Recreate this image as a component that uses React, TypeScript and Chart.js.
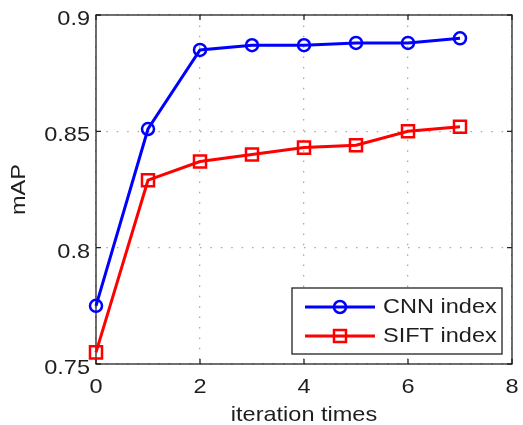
import { useEffect, useRef } from "react";
import { Chart, registerables } from "chart.js";

Chart.register(...registerables);

const iterations = [0, 1, 2, 3, 4, 5, 6, 7];
const cnnIndex = [0.775, 0.851, 0.885, 0.887, 0.887, 0.888, 0.888, 0.89];
const siftIndex = [0.755, 0.829, 0.837, 0.84, 0.843, 0.844, 0.85, 0.852];
const xTicks = [0, 2, 4, 6, 8];
const yTicks = [0.75, 0.8, 0.85, 0.9];
const xTickLabels = ["0", "2", "4", "6", "8"];
const yTickLabels = ["0.75", "0.8", "0.85", "0.9"];
const seriesNames = ["CNN index", "SIFT index"];
const xTitle = "iteration times";
const yTitle = "mAP";

const FONT = '"Liberation Sans", Arial, Helvetica, sans-serif';
const FONT_SIZE = 21;
const STRETCH = 1.12;
const TEXT = "#1e1e1e";
const BLUE = "#0000ff";
const RED = "#ff0000";
const GRID = "#a8a8a8";

function drawText(
  ctx: CanvasRenderingContext2D,
  text: string,
  x: number,
  y: number,
  align: CanvasTextAlign,
  rotate = 0
) {
  ctx.save();
  ctx.translate(x, y);
  if (rotate) ctx.rotate(rotate);
  ctx.scale(STRETCH, 1);
  ctx.font = `${FONT_SIZE}px ${FONT}`;
  ctx.fillStyle = TEXT;
  ctx.textAlign = align;
  ctx.textBaseline = "alphabetic";
  ctx.fillText(text, 0, 0);
  ctx.restore();
}

function drawMarker(ctx: CanvasRenderingContext2D, kind: string, x: number, y: number, color: string) {
  ctx.save();
  ctx.strokeStyle = color;
  ctx.lineWidth = 2.5;
  ctx.beginPath();
  if (kind === "circle") {
    ctx.arc(x, y, 6, 0, Math.PI * 2);
  } else {
    ctx.rect(x - 6, y - 6, 12, 12);
  }
  ctx.stroke();
  ctx.restore();
}

const framePlugin = {
  id: "frame",
  beforeDatasetsDraw(chart: any) {
    const { ctx, chartArea: a, scales } = chart;
    ctx.save();
    ctx.strokeStyle = "#222";
    ctx.lineWidth = 1.3;
    ctx.strokeRect(a.left, a.top, a.right - a.left, a.bottom - a.top);
    ctx.beginPath();
    const tl = 5;
    xTicks.forEach((v) => {
      const px = scales.x.getPixelForValue(v);
      ctx.moveTo(px, a.bottom);
      ctx.lineTo(px, a.bottom - tl);
      ctx.moveTo(px, a.top);
      ctx.lineTo(px, a.top + tl);
    });
    yTicks.forEach((v) => {
      const py = scales.y.getPixelForValue(v);
      ctx.moveTo(a.left, py);
      ctx.lineTo(a.left + tl, py);
      ctx.moveTo(a.right, py);
      ctx.lineTo(a.right - tl, py);
    });
    ctx.stroke();
    ctx.restore();

    xTicks.forEach((v, i) => {
      const px = scales.x.getPixelForValue(v);
      drawText(ctx, xTickLabels[i], px, a.bottom + 29, "center");
    });
    yTicks.forEach((v, i) => {
      const py = scales.y.getPixelForValue(v);
      drawText(ctx, yTickLabels[i], a.left - 6, py + 10, "right");
    });
    drawText(ctx, xTitle, (a.left + a.right) / 2, a.bottom + 57, "center");
    drawText(ctx, yTitle, 25, (a.top + a.bottom) / 2, "center", -Math.PI / 2);
  },
  afterDraw(chart: any) {
    const { ctx, chartArea: a } = chart;
    const bx = a.right - 220;
    const by = a.bottom - 76;
    const bw = 210;
    const bh = 66;
    ctx.save();
    ctx.fillStyle = "#ffffff";
    ctx.fillRect(bx, by, bw, bh);
    ctx.strokeStyle = "#222";
    ctx.lineWidth = 1.3;
    ctx.strokeRect(bx, by, bw, bh);
    const rows = [
      { name: seriesNames[0], color: BLUE, kind: "circle", y: by + 19 },
      { name: seriesNames[1], color: RED, kind: "rect", y: by + 48 },
    ];
    rows.forEach((r) => {
      ctx.strokeStyle = r.color;
      ctx.lineWidth = 3;
      ctx.beginPath();
      ctx.moveTo(bx + 13, r.y);
      ctx.lineTo(bx + 83, r.y);
      ctx.stroke();
      drawMarker(ctx, r.kind, bx + 48, r.y, r.color);
      drawText(ctx, r.name, bx + 91, r.y + 6, "left");
    });
    ctx.restore();
  },
};

export default function App() {
  const ref = useRef<HTMLCanvasElement | null>(null);
  useEffect(() => {
    if (!ref.current) return;
    const chart = new Chart(ref.current, {
      type: "line",
      data: {
        labels: iterations,
        datasets: [
          {
            label: seriesNames[0],
            data: iterations.map((x, i) => ({ x, y: cnnIndex[i] })),
            borderColor: BLUE,
            backgroundColor: "rgba(0,0,0,0)",
            borderWidth: 3,
            pointStyle: "circle",
            pointRadius: 6,
            pointBorderWidth: 2.5,
            pointBorderColor: BLUE,
            pointBackgroundColor: "rgba(0,0,0,0)",
            tension: 0,
            clip: false as any,
          },
          {
            label: seriesNames[1],
            data: iterations.map((x, i) => ({ x, y: siftIndex[i] })),
            borderColor: RED,
            backgroundColor: "rgba(0,0,0,0)",
            borderWidth: 3,
            pointStyle: "rect",
            pointRadius: 8.5,
            pointBorderWidth: 2.5,
            pointBorderColor: RED,
            pointBackgroundColor: "rgba(0,0,0,0)",
            tension: 0,
            clip: false as any,
          },
        ],
      },
      options: {
        animation: false,
        responsive: false,
        maintainAspectRatio: false,
        layout: { padding: { top: 15, right: 3, left: 0, bottom: 0 } },
        plugins: { legend: { display: false }, tooltip: { enabled: false } },
        scales: {
          x: {
            type: "linear",
            min: 0,
            max: 8,
            afterFit: (s: any) => {
              s.height = 61;
              s.paddingLeft = 0;
              s.paddingRight = 0;
            },
            afterBuildTicks: (s: any) => {
              s.ticks = xTicks.map((v) => ({ value: v }));
            },
            ticks: { display: false },
            grid: { color: GRID, lineWidth: 1.3, drawTicks: false },
            border: { display: false, dash: [1.5, 8.9] },
          },
          y: {
            type: "linear",
            min: 0.75,
            max: 0.9,
            afterFit: (s: any) => {
              s.width = 96;
              s.paddingTop = 0;
              s.paddingBottom = 0;
            },
            afterBuildTicks: (s: any) => {
              s.ticks = yTicks.map((v) => ({ value: v }));
            },
            ticks: { display: false },
            grid: { color: GRID, lineWidth: 1.3, drawTicks: false },
            border: { display: false, dash: [1.5, 8.9] },
          },
        },
      },
      plugins: [framePlugin],
    });
    return () => chart.destroy();
  }, []);
  return (
    <div style={{ position: "fixed", left: 0, top: 0, width: 523, height: 425, background: "#fff" }}>
      <canvas ref={ref} width={523} height={425} style={{ width: 523, height: 425, display: "block" }} />
    </div>
  );
}
